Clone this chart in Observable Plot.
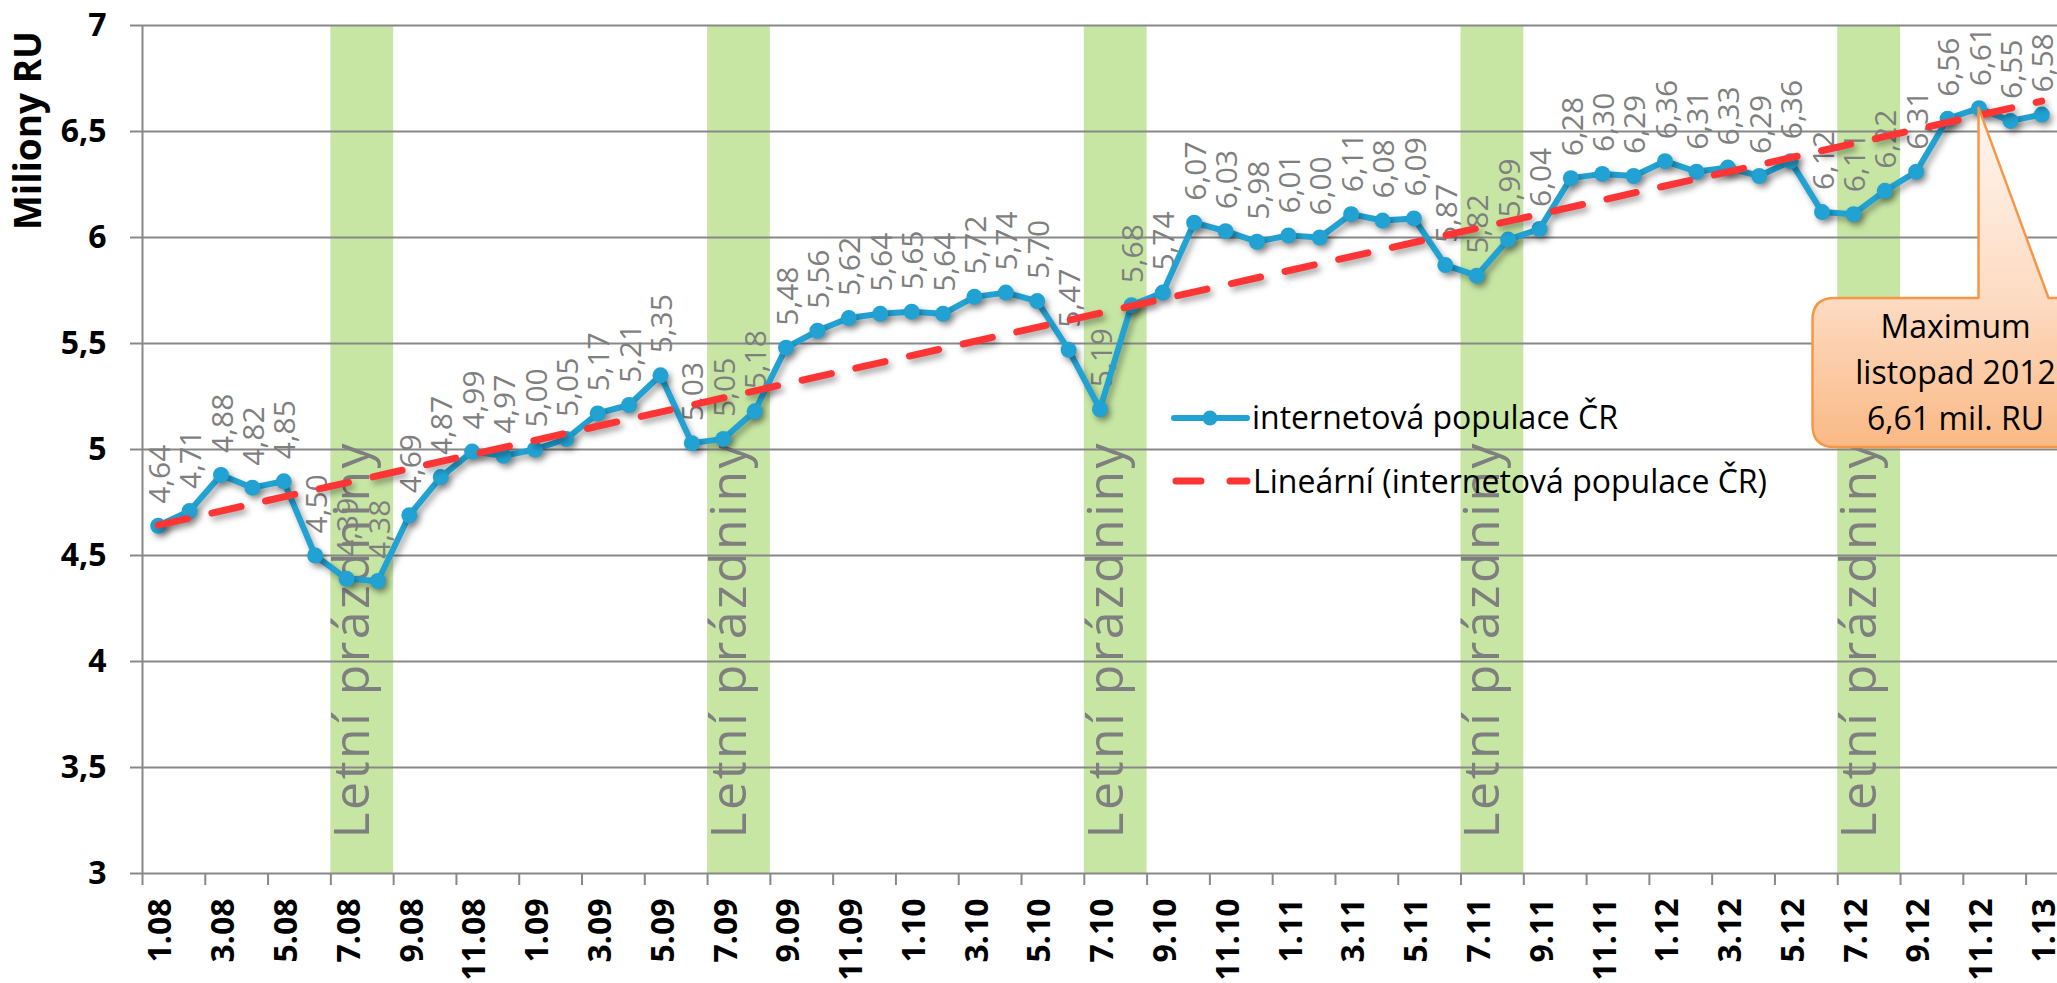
<!DOCTYPE html>
<html>
<head>
<meta charset="utf-8">
<script src="https://cdn.jsdelivr.net/npm/d3@7"></script>
<script src="https://cdn.jsdelivr.net/npm/@observablehq/plot@0.6"></script>
<style>
  html, body { margin: 0; padding: 0; overflow: hidden; background: #ffffff; }
  #chart svg { display: block; }
</style>
</head>
<body>
<div id="chart"></div>
<script>
// ---- data ----
const months = ["1.08","2.08","3.08","4.08","5.08","6.08","7.08","8.08","9.08","10.08","11.08","12.08",
  "1.09","2.09","3.09","4.09","5.09","6.09","7.09","8.09","9.09","10.09","11.09","12.09",
  "1.10","2.10","3.10","4.10","5.10","6.10","7.10","8.10","9.10","10.10","11.10","12.10",
  "1.11","2.11","3.11","4.11","5.11","6.11","7.11","8.11","9.11","10.11","11.11","12.11",
  "1.12","2.12","3.12","4.12","5.12","6.12","7.12","8.12","9.12","10.12","11.12","12.12",
  "1.13"];
const values = [4.64,4.71,4.88,4.82,4.85,4.50,4.39,4.38,4.69,4.87,4.99,4.97,
  5.00,5.05,5.17,5.21,5.35,5.03,5.05,5.18,5.48,5.56,5.62,5.64,
  5.65,5.64,5.72,5.74,5.70,5.47,5.19,5.68,5.74,6.07,6.03,5.98,
  6.01,6.00,6.11,6.08,6.09,5.87,5.82,5.99,6.04,6.28,6.30,6.29,
  6.36,6.31,6.33,6.29,6.36,6.12,6.11,6.22,6.31,6.56,6.61,6.55,
  6.58];
const summerStarts = ["7.08","7.09","7.10","7.11","7.12"];
const yTicks = [3,3.5,4,4.5,5,5.5,6,6.5,7];
const yTitle = "Miliony RU";
const bandLabel = "Letní prázdniny";
const seriesName = "internetová populace ČR";
const trendName = "Lineární (internetová populace ČR)";
const calloutLines = ["Maximum", "listopad 2012", "6,61 mil. RU"];

// ---- derived ----
const data = months.map((m, i) => ({i, m, v: values[i]}));
const bands = summerStarts.map(m => ({start: months.indexOf(m)}));
const labelTicks = months.map((m, i) => i).filter(i => i % 2 === 0);
const boundaryTicks = months.map((m, i) => i - 0.5).filter((b, i) => i % 2 === 0);
const fmt = v => v.toFixed(2).replace(".", ",");
const maxIdx = d3.maxIndex(values);

const BLUE = "#21A2D3";
const RED = "#FF3535";
const GRID = "#888888";
const LABEL_GRAY = "#7F7F7F";
const FONT = "'Open Sans', 'DejaVu Sans', sans-serif";

function legendMark(index, scales, vals, dims) {
  const g = d3.create("svg:g").attr("font-family", FONT).attr("font-size", 32)
    .attr("fill", "#000").attr("text-anchor", "start");
  // row 1
  g.append("line").attr("x1", 1174).attr("x2", 1247).attr("y1", 418).attr("y2", 418)
    .attr("stroke", BLUE).attr("stroke-width", 6).attr("stroke-linecap", "round");
  g.append("circle").attr("cx", 1210).attr("cy", 418).attr("r", 7.5).attr("fill", BLUE);
  g.append("text").attr("x", 1252).attr("y", 429).text(seriesName);
  // row 2
  g.append("line").attr("x1", 1176).attr("x2", 1247).attr("y1", 481).attr("y2", 481)
    .attr("stroke", RED).attr("stroke-width", 7).attr("stroke-linecap", "round")
    .attr("stroke-dasharray", "25 29");
  g.append("text").attr("x", 1253).attr("y", 493).text(trendName);
  return g.node();
}

function calloutMark(index, scales, vals, dims) {
  const ax = scales.x(maxIdx), ay = scales.y(values[maxIdx]);
  const left = ax - 166, right = ax + 120, top = 298, bottom = 447, r = 22;
  const pL = ax, pR = ax + 70;
  const g = d3.create("svg:g");
  const defs = g.append("defs");
  const grad = defs.append("linearGradient").attr("id", "calloutGrad")
    .attr("x1", 0).attr("y1", 0).attr("x2", 0).attr("y2", 1);
  grad.append("stop").attr("offset", "0%").attr("stop-color", "#FFF6EF");
  grad.append("stop").attr("offset", "55%").attr("stop-color", "#FDDCC4");
  grad.append("stop").attr("offset", "100%").attr("stop-color", "#FAB985");
  const p = `M${left + r},${top} L${pL},${top} L${ax},${ay} L${pR},${top} L${right - r},${top}
    Q${right},${top} ${right},${top + r} L${right},${bottom - r} Q${right},${bottom} ${right - r},${bottom}
    L${left + r},${bottom} Q${left},${bottom} ${left},${bottom - r} L${left},${top + r} Q${left},${top} ${left + r},${top} Z`;
  g.append("path").attr("d", p).attr("fill", "url(#calloutGrad)")
    .attr("stroke", "#F79646").attr("stroke-width", 2.5).attr("stroke-linejoin", "round");
  const cx = ax - 23;
  const t = g.append("text").attr("font-family", FONT).attr("font-size", 32).attr("fill", "#000")
    .attr("text-anchor", "middle");
  calloutLines.forEach((s, k) => {
    t.append("tspan").attr("x", cx).attr("y", 338 + k * 46).text(s);
  });
  return g.node();
}

const plot = Plot.plot({
  width: 2057,
  height: 983,
  marginLeft: 142,
  marginRight: 0,
  marginTop: 25,
  marginBottom: 110,
  style: {fontFamily: FONT, background: "#ffffff", overflow: "visible"},
  x: {type: "linear", domain: [-0.5, months.length - 0.5]},
  y: {domain: [yTicks[0], yTicks[yTicks.length - 1]]},
  marks: [
    Plot.rect(bands, {x1: d => d.start - 0.5, x2: d => d.start + 1.5, fill: "#C7E6A4"}),
    Plot.gridY(yTicks, {stroke: GRID, strokeOpacity: 1, strokeWidth: 2}),
    Plot.ruleX([-0.5], {stroke: GRID, strokeWidth: 2}),
    Plot.axisY({ticks: yTicks, tickFormat: d => String(d).replace(".", ","), tickSize: 12, tickPadding: 24,
      fontSize: 32, fontWeight: "bold", stroke: GRID, strokeWidth: 2, strokeOpacity: 1, fill: "#000", label: null}),
    Plot.axisX({ticks: boundaryTicks, tickSize: 12, tickFormat: () => "", stroke: GRID, strokeWidth: 2, strokeOpacity: 1, label: null}),
    Plot.axisX({ticks: labelTicks, tickSize: 0, tickPadding: 25, tickRotate: -90, textAnchor: "end", lineAnchor: "middle",
      dx: 3, tickFormat: i => months[i], fontSize: 32, fontWeight: "bold", fill: "#000", label: null}),
    Plot.text(bands, {x: d => d.start + 0.5, frameAnchor: "bottom", text: () => bandLabel, rotate: -90,
      textAnchor: "start", dy: -35, dx: 7, fontSize: 50, fill: LABEL_GRAY}),
    Plot.text(data, {x: "i", y: "v", text: d => fmt(d.v), rotate: -90, textAnchor: "start",
      dy: -22, dx: 2, fontSize: 30, fill: LABEL_GRAY}),
    Plot.line(data, {x: "i", y: "v", stroke: BLUE, strokeWidth: 6, strokeLinejoin: "round"}),
    Plot.dot(data, {x: "i", y: "v", r: 8, fill: BLUE, stroke: "none"}),
    Plot.linearRegressionY(data, {x: "i", y: "v", ci: 0, stroke: RED, strokeWidth: 7, strokeDasharray: "30 25"}),
    Plot.text([yTitle], {frameAnchor: "top-left", rotate: -90, dx: -128, dy: 105, fontSize: 37,
      fontWeight: "bold", textAnchor: "middle", fill: "#000"}),
    legendMark,
    calloutMark
  ]
});

// soft drop shadows on the series and trend
plot.querySelectorAll('g[aria-label="line"], g[aria-label="dot"], g[aria-label="linear-regression"]').forEach(g => {
  g.style.filter = "drop-shadow(3px 4px 3px rgba(0,0,0,0.35))";
});
plot.querySelectorAll('g[aria-label$="tick label"] text').forEach(t => t.setAttribute("font-weight", "bold"));
// slightly spaced band labels, as in the original
plot.querySelectorAll('text').forEach(t => {
  if (t.textContent === bandLabel) t.setAttribute("letter-spacing", "2.5");
});

document.getElementById("chart").appendChild(plot);
</script>
</body>
</html>
